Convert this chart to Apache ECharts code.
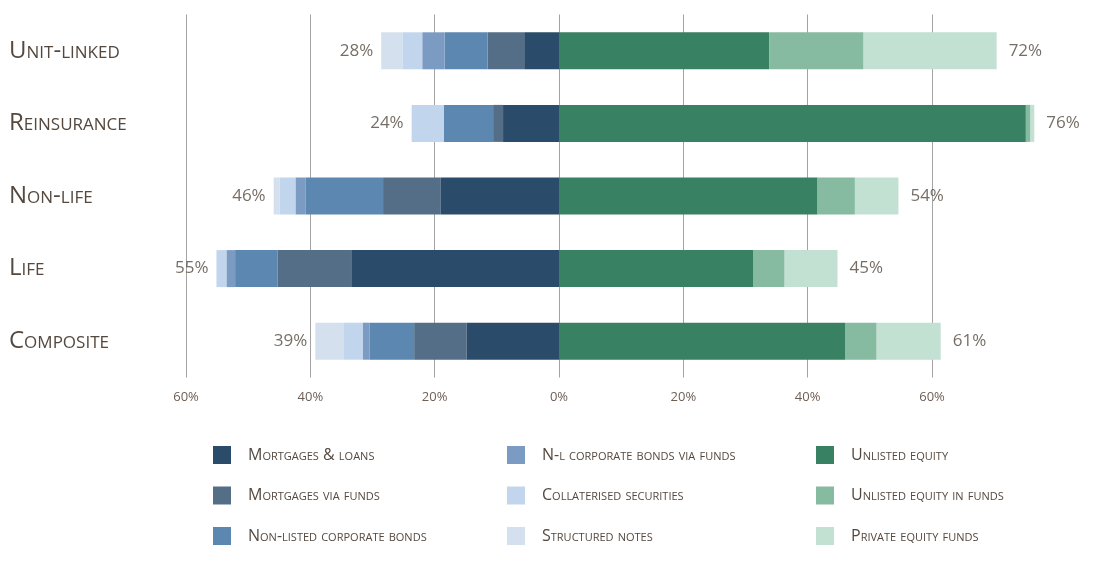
<!DOCTYPE html>
<html>
<head>
<meta charset="utf-8">
<script src="https://cdn.jsdelivr.net/npm/echarts@6/dist/echarts.min.js"></script>
<style>
  html, body { margin: 0; padding: 0; background: #fff; }
  #chart { width: 1100px; height: 564px; }
</style>
</head>
<body>
<div id="chart"></div>
<script>
const categories = ['Unit-linked', 'Reinsurance', 'Non-life', 'Life', 'Composite'];

// Debt side (shown to the left of zero)
const mortgagesLoans      = [5.6, 9.0, 19.0, 33.3, 14.9];
const mortgagesFunds      = [5.9, 1.6, 9.3, 12.0, 8.4];
const nlCorpBonds         = [6.9, 7.9, 12.5, 6.8, 7.2];
const nlCorpBondsFunds    = [3.6, 0, 1.6, 1.4, 1.1];
const collateralised      = [3.2, 5.2, 2.5, 1.6, 3.1];
const structuredNotes     = [3.4, 0, 1.0, 0, 4.5];

// Equity side (shown to the right of zero)
const unlistedEquity      = [33.8, 75.1, 41.6, 31.3, 46.1];
const unlistedEquityFunds = [15.2, 0.75, 6.0, 5.0, 5.0];
const privateEquityFunds  = [21.4, 0.6, 7.0, 8.5, 10.3];

const debtLabels   = ['28%', '24%', '46%', '55%', '39%'];
const equityLabels = ['72%', '76%', '54%', '45%', '61%'];

const FONT = 'Open Sans';
const TXT = '#54483f';

const debtSeries = [
  { name: 'Mortgages & loans',             data: mortgagesLoans,   color: '#2a4c6a' },
  { name: 'Mortgages via funds',           data: mortgagesFunds,   color: '#546e87' },
  { name: 'Non-listed corporate bonds',    data: nlCorpBonds,      color: '#5b87b1' },
  { name: 'N-l corporate bonds via funds', data: nlCorpBondsFunds, color: '#7b9bc3' },
  { name: 'Collaterised securities',       data: collateralised,   color: '#c1d6ec' },
  { name: 'Structured notes',              data: structuredNotes,  color: '#d5e0ee' }
];
const equitySeries = [
  { name: 'Unlisted equity',               data: unlistedEquity,      color: '#388163' },
  { name: 'Unlisted equity in funds',      data: unlistedEquityFunds, color: '#86bba2' },
  { name: 'Private equity funds',          data: privateEquityFunds,  color: '#c3e1d3' }
];

const series = [];
debtSeries.forEach(s => {
  series.push({
    name: s.name, type: 'bar', stack: 'debt', barWidth: 37, barGap: '-100%', clip: false,
    itemStyle: { color: s.color },
    data: s.data.map(v => -v)
  });
});
equitySeries.forEach(s => {
  series.push({
    name: s.name, type: 'bar', stack: 'equity', barWidth: 37, barGap: '-100%', clip: false,
    itemStyle: { color: s.color },
    data: s.data
  });
});

const debtTotals = categories.map((c, i) => debtSeries.reduce((a, s) => a + s.data[i], 0));
const equityTotals = categories.map((c, i) => equitySeries.reduce((a, s) => a + s.data[i], 0));

series.push({
  type: 'scatter', symbolSize: 0, clip: false, silent: true,
  data: categories.map((c, i) => [-debtTotals[i], c]),
  label: {
    show: true, position: 'left', distance: 8,
    fontFamily: FONT, fontSize: 17, color: TXT,
    formatter: p => debtLabels[p.dataIndex]
  }
});
series.push({
  type: 'scatter', symbolSize: 0, clip: false, silent: true,
  data: categories.map((c, i) => [equityTotals[i], c]),
  label: {
    show: true, position: 'right', distance: 12,
    fontFamily: FONT, fontSize: 17, color: TXT,
    formatter: p => equityLabels[p.dataIndex]
  }
});

const legendText = {
  fontFamily: FONT, fontSize: 16, color: TXT, fontStyle: 'small-caps',
  padding: [0, 0, 0, 12]
};
function makeLegend(list, left) {
  return {
    orient: 'vertical', left: left, top: 446, padding: 0,
    itemWidth: 18, itemHeight: 18, itemGap: 22.5, icon: 'rect',
    selectedMode: false,
    textStyle: legendText,
    data: list.map(s => s.name)
  };
}

const option = {
  animation: false,
  backgroundColor: '#ffffff',
  grid: { left: 186, right: 168, top: 14.5, height: 363, containLabel: false },
  xAxis: {
    type: 'value', min: -60, max: 60, interval: 20,
    axisLine: { show: false }, axisTick: { show: false },
    splitLine: { show: true, lineStyle: { color: '#a3a3a3', width: 1 } },
    axisLabel: {
      margin: 13, fontFamily: FONT, fontSize: 13, color: '#6e5f55',
      formatter: v => Math.abs(v) + '%'
    }
  },
  yAxis: {
    type: 'category', data: categories, inverse: true,
    axisLine: { show: false }, axisTick: { show: false },
    axisLabel: {
      align: 'left', margin: 177, fontFamily: FONT, fontSize: 24,
      fontStyle: 'small-caps', color: TXT
    }
  },
  legend: [
    makeLegend(debtSeries.slice(0, 3), 213),
    makeLegend(debtSeries.slice(3, 6), 507),
    makeLegend(equitySeries, 816)
  ],
  series: series
};

const chart = echarts.init(document.getElementById('chart'), null, { renderer: 'canvas' });
chart.setOption(option);
</script>
</body>
</html>
